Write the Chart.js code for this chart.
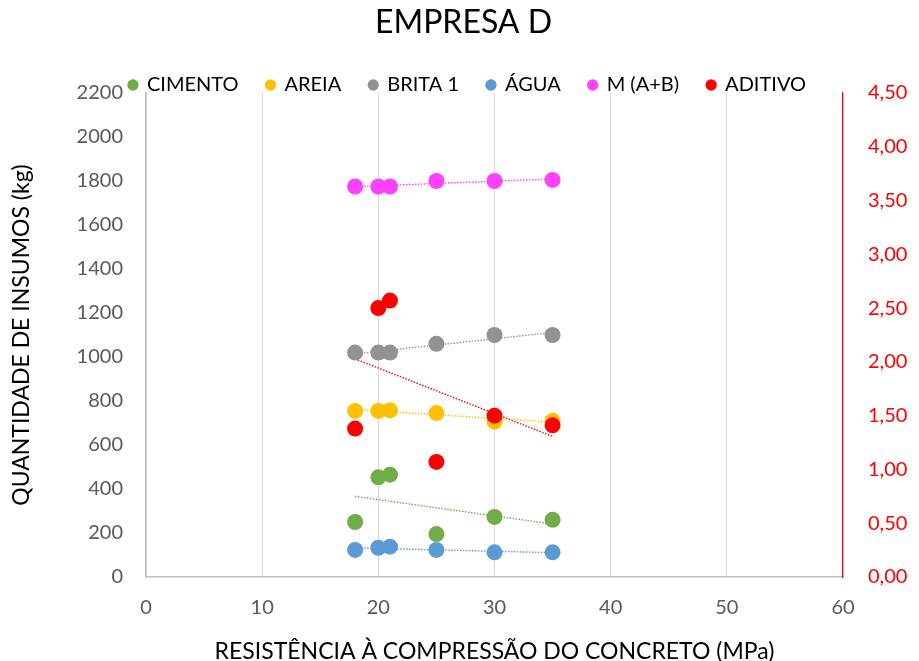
<!DOCTYPE html>
<html lang="pt-BR">
<head>
<meta charset="utf-8">
<title>EMPRESA D</title>
<script src="https://cdn.jsdelivr.net/npm/chart.js@4.4.1/dist/chart.umd.min.js"></script>
<style>
  html, body { margin: 0; padding: 0; background: #ffffff; }
  #wrap { width: 919px; height: 661px; }
</style>
</head>
<body>
<div id="wrap"><canvas id="grafico" width="919" height="661"></canvas></div>
<script>
// Resistência à compressão (MPa) de cada traço
const resistencia = [18, 20, 21, 25, 30, 35];

// Quantidade de insumos (kg) – eixo da esquerda
const cimento = [250, 453, 465, 195, 273, 260];
const areia   = [755, 755, 758, 745, 706, 710];
const brita1  = [1020, 1020, 1020, 1060, 1100, 1100];
const agua    = [123, 133, 138, 123, 112, 112];
const mAB     = [1775, 1775, 1775, 1800, 1800, 1805];

// Aditivo – eixo da direita
const aditivo = [1.38, 2.50, 2.57, 1.07, 1.50, 1.41];

const nomesSeries = ['CIMENTO', 'AREIA', 'BRITA 1', 'ÁGUA', 'M (A+B)', 'ADITIVO'];
const coresSeries = ['#70AD47', '#FFC000', '#929292', '#5B9BD5', '#FF40FF', '#FF0000'];
const valoresSeries = [cimento, areia, brita1, agua, mAB, aditivo];
const eixoSeries = ['y', 'y', 'y', 'y', 'y', 'y2'];

const tickLeft = { min: 0, max: 2200, step: 200 };
const tickRight = { min: 0, max: 4.5, step: 0.5 };
const tickX = { min: 0, max: 60, step: 10 };

// Regressão linear (mínimos quadrados) para as linhas de tendência
function tendencia(xs, ys) {
  const n = xs.length;
  const mx = xs.reduce((a, b) => a + b, 0) / n;
  const my = ys.reduce((a, b) => a + b, 0) / n;
  let sxy = 0, sxx = 0;
  for (let i = 0; i < n; i++) {
    sxy += (xs[i] - mx) * (ys[i] - my);
    sxx += (xs[i] - mx) * (xs[i] - mx);
  }
  const b = sxy / sxx;
  const a = my - b * mx;
  const x0 = Math.min(...xs), x1 = Math.max(...xs);
  return [{ x: x0, y: a + b * x0 }, { x: x1, y: a + b * x1 }];
}

const pontos = valoresSeries.map((vals, i) => ({
  label: nomesSeries[i],
  data: resistencia.map((x, k) => ({ x: x, y: vals[k] })),
  yAxisID: eixoSeries[i],
  backgroundColor: coresSeries[i],
  borderColor: coresSeries[i],
  pointRadius: 8,
  pointHoverRadius: 8,
  pointBorderWidth: 0,
  borderWidth: 0,
  showLine: false,
  order: 6 - i
}));

const linhas = valoresSeries.map((vals, i) => ({
  label: 'tendencia-' + i,
  data: tendencia(resistencia, vals),
  yAxisID: eixoSeries[i],
  borderColor: coresSeries[i],
  backgroundColor: coresSeries[i],
  borderWidth: 1.4,
  borderDash: [1.5, 1.5],
  pointRadius: 0,
  showLine: true,
  fill: false,
  order: 20
}));

// Ajusta a altura e o deslocamento do bloco da legenda (sem recorte)
const ajusteLegenda = {
  id: 'ajusteLegenda',
  beforeLayout(chart) {
    const lg = chart.legend;
    if (lg && !lg._ajustada) {
      const fit = lg.fit;
      lg.fit = function () { fit.call(this); this.height = 46; };
      const draw = lg.draw;
      lg.draw = function () {
        this.ctx.save();
        this.ctx.translate(4, 0);
        if (typeof this._draw === 'function' && this.options.display) {
          this._draw();
        } else {
          draw.call(this);
        }
        this.ctx.restore();
      };
      lg._ajustada = true;
    }
  }
};

function desenhar() {
  Chart.defaults.font.family = 'Lato';
  Chart.defaults.color = '#595959';

  new Chart(document.getElementById('grafico'), {
    type: 'scatter',
    data: { datasets: pontos.concat(linhas) },
    plugins: [ajusteLegenda],
    options: {
      responsive: false,
      animation: false,
      layout: { padding: { left: 8, right: 0, top: 0, bottom: 0 } },
      plugins: {
        tooltip: { enabled: false },
        title: {
          display: true,
          text: 'EMPRESA D',
          color: '#000000',
          font: { size: 32, weight: 'normal' },
          padding: { top: 3, bottom: 5.6 }
        },
        legend: {
          display: true,
          position: 'top',
          labels: {
            usePointStyle: true,
            pointStyle: 'circle',
            boxWidth: 8,
            boxHeight: 8,
            padding: 28,
            color: '#000000',
            font: { size: 20 },
            filter: (item) => item.datasetIndex < nomesSeries.length,
            sort: (a, b) => a.datasetIndex - b.datasetIndex
          }
        }
      },
      scales: {
        x: {
          type: 'linear',
          position: 'bottom',
          min: tickX.min,
          max: tickX.max,
          afterFit: (s) => { s.height = 84; },
          ticks: { stepSize: tickX.step, color: '#595959', font: { size: 20 }, padding: 19 },
          grid: { display: true, color: '#D9D9D9', lineWidth: 1, drawTicks: false },
          border: { display: true, color: '#BFBFBF', width: 1.5 },
          title: {
            display: true,
            text: 'RESISTÊNCIA À COMPRESSÃO DO CONCRETO (MPa)',
            color: '#000000',
            font: { size: 23 },
            padding: { top: 0, bottom: -4 }
          }
        },
        y: {
          type: 'linear',
          position: 'left',
          min: tickLeft.min,
          max: tickLeft.max,
          afterFit: (s) => { s.width = 138; },
          ticks: {
            stepSize: tickLeft.step,
            color: '#595959',
            font: { size: 20 },
            padding: 23,
            callback: (v) => String(v)
          },
          grid: { display: false, drawTicks: false },
          border: { display: true, color: '#BFBFBF', width: 1.5 },
          title: {
            display: true,
            text: 'QUANTIDADE DE INSUMOS (kg)',
            color: '#000000',
            font: { size: 23 },
            padding: { top: 0, bottom: 0 }
          }
        },
        y2: {
          type: 'linear',
          position: 'right',
          min: tickRight.min,
          max: tickRight.max,
          afterFit: (s) => { s.width = 76; },
          ticks: {
            stepSize: tickRight.step,
            color: '#FF0000',
            font: { size: 20 },
            padding: 25,
            callback: (v) => v.toFixed(2).replace('.', ',')
          },
          grid: { display: false, drawTicks: false },
          border: { display: true, color: '#FF0000', width: 1.2 }
        }
      }
    }
  });
}

if (document.fonts && document.fonts.load) {
  document.fonts.load('20px Lato').then(desenhar, desenhar);
} else {
  desenhar();
}
</script>
</body>
</html>
